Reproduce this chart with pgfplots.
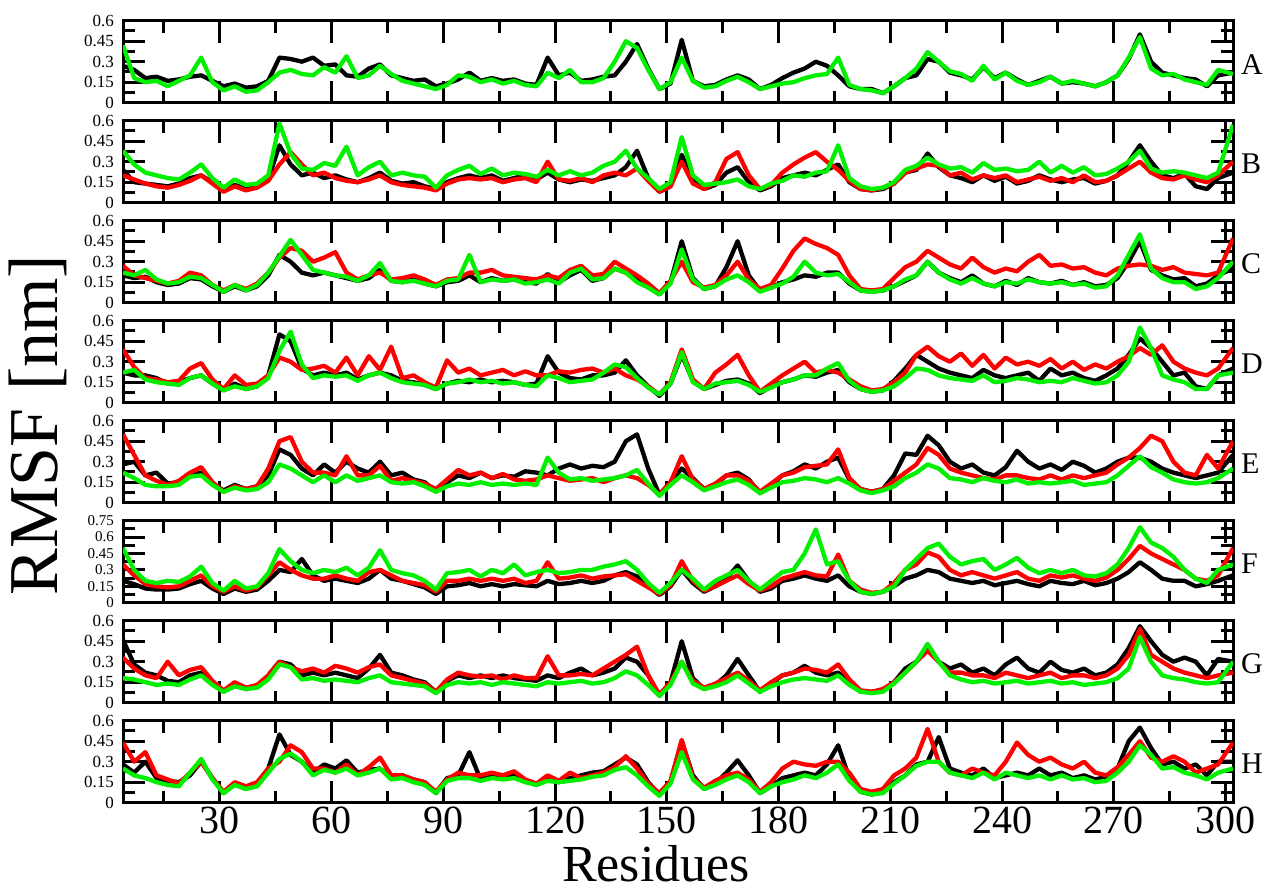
\documentclass[border=0pt]{standalone}
\usepackage{pgfplots}
\usepackage{pgfplotstable}
\usepackage{fontspec}
\setmainfont{Liberation Serif}
\pgfplotsset{compat=1.18}
\definecolor{xgreen}{RGB}{0,240,0}
\definecolor{xred}{RGB}{255,0,0}

\pgfplotstableread{
r k g
4 .27 .42
7 .24 .18
10 .18 .15
13 .19 .16
16 .16 .12
19 .17 .16
22 .19 .2
25 .2 .33
28 .16 .15
31 .12 .09
34 .14 .12
37 .11 .08
40 .12 .09
43 .16 .15
46 .33 .22
49 .32 .24
52 .3 .21
55 .33 .2
58 .27 .26
61 .28 .22
64 .2 .34
67 .19 .18
70 .25 .2
73 .28 .27
76 .2 .21
79 .18 .16
82 .16 .14
85 .17 .12
88 .12 .1
91 .14 .13
94 .17 .2
97 .22 .19
100 .16 .15
103 .18 .17
106 .16 .14
109 .17 .16
112 .14 .13
115 .13 .12
118 .33 .22
121 .2 .18
124 .22 .24
127 .16 .15
130 .17 .15
133 .19 .18
136 .2 .3
139 .3 .45
142 .43 .4
145 .25 .24
148 .1 .1
151 .14 .15
154 .46 .33
157 .16 .16
160 .12 .11
163 .13 .12
166 .17 .16
169 .2 .19
172 .17 .15
175 .1 .1
178 .13 .12
181 .18 .14
184 .22 .15
187 .25 .18
190 .3 .2
193 .27 .21
196 .2 .33
199 .12 .13
202 .1 .1
205 .1 .09
208 .07 .07
211 .12 .12
214 .18 .18
217 .2 .25
220 .32 .37
223 .3 .3
226 .22 .23
229 .2 .21
232 .17 .16
235 .26 .27
238 .18 .17
241 .22 .22
244 .17 .16
247 .13 .13
250 .16 .15
253 .19 .19
256 .14 .14
259 .15 .16
262 .14 .14
265 .12 .12
268 .15 .15
271 .2 .2
274 .32 .33
277 .5 .48
280 .3 .25
283 .22 .2
286 .2 .21
289 .18 .17
292 .17 .15
295 .12 .13
298 .2 .24
302 .22 .21
}\tabA

\pgfplotstableread{
r k d g
4 .24 .2 .38
7 .15 .17 .28
10 .14 .14 .22
13 .13 .12 .2
16 .12 .11 .18
19 .14 .13 .17
22 .18 .16 .22
25 .2 .2 .28
28 .15 .14 .18
31 .09 .08 .11
34 .13 .12 .17
37 .1 .09 .13
40 .12 .11 .14
43 .17 .16 .2
46 .42 .28 .58
49 .28 .37 .36
52 .2 .28 .25
55 .22 .2 .24
58 .18 .22 .29
61 .2 .18 .27
64 .17 .16 .41
67 .15 .15 .2
70 .18 .17 .26
73 .22 .2 .3
76 .16 .15 .2
79 .14 .13 .22
82 .15 .12 .2
85 .12 .11 .19
88 .1 .09 .11
91 .15 .14 .2
94 .18 .17 .24
97 .2 .18 .27
100 .18 .17 .21
103 .2 .18 .25
106 .16 .15 .2
109 .18 .17 .22
112 .2 .18 .21
115 .17 .15 .19
118 .22 .3 .24
121 .17 .17 .2
124 .15 .16 .23
127 .17 .18 .2
130 .16 .15 .22
133 .18 .2 .27
136 .2 .22 .3
139 .26 .2 .38
142 .38 .25 .25
145 .18 .16 .18
148 .08 .08 .1
151 .12 .12 .15
154 .35 .3 .48
157 .17 .14 .2
160 .1 .1 .13
163 .13 .15 .14
166 .22 .32 .15
169 .26 .37 .17
172 .15 .2 .12
175 .09 .1 .1
178 .12 .13 .14
181 .18 .22 .16
184 .2 .28 .2
187 .22 .33 .19
190 .2 .37 .22
193 .24 .3 .23
196 .28 .24 .42
199 .15 .16 .18
202 .1 .1 .12
205 .09 .09 .1
208 .1 .11 .11
211 .14 .14 .15
214 .22 .22 .24
217 .24 .25 .27
220 .36 .28 .33
223 .26 .27 .28
226 .2 .2 .25
229 .18 .22 .26
232 .15 .17 .22
235 .2 .2 .29
238 .16 .18 .24
241 .19 .2 .25
244 .14 .15 .23
247 .16 .17 .24
250 .2 .19 .3
253 .17 .16 .22
256 .15 .18 .27
259 .17 .15 .22
262 .18 .2 .26
265 .14 .15 .2
268 .16 .16 .21
271 .2 .2 .25
274 .3 .25 .3
277 .42 .3 .38
280 .3 .22 .25
283 .2 .18 .22
286 .18 .17 .23
289 .21 .2 .22
292 .12 .17 .2
295 .1 .15 .18
298 .18 .2 .22
302 .22 .3 .57
}\tabB

\pgfplotstableread{
r k d g
4 .2 .27 .22
7 .18 .2 .2
10 .19 .18 .24
13 .15 .16 .17
16 .13 .14 .14
19 .14 .16 .15
22 .18 .22 .19
25 .17 .2 .18
28 .12 .13 .13
31 .08 .09 .08
34 .12 .13 .13
37 .09 .1 .09
40 .12 .14 .13
43 .2 .22 .22
46 .35 .33 .34
49 .3 .4 .46
52 .22 .38 .35
55 .2 .3 .24
58 .22 .33 .22
61 .2 .37 .2
64 .18 .22 .19
67 .16 .17 .16
70 .18 .2 .2
73 .24 .22 .29
76 .16 .17 .16
79 .15 .18 .15
82 .17 .2 .16
85 .14 .17 .14
88 .12 .13 .12
91 .15 .17 .16
94 .16 .18 .17
97 .2 .22 .35
100 .15 .22 .15
103 .18 .24 .17
106 .16 .2 .16
109 .17 .19 .17
112 .15 .18 .14
115 .14 .17 .15
118 .21 .2 .17
121 .15 .18 .14
124 .2 .24 .22
127 .24 .27 .25
130 .16 .2 .17
133 .18 .21 .18
136 .25 .3 .25
139 .22 .25 .22
142 .17 .2 .15
145 .12 .14 .11
148 .06 .07 .06
151 .15 .16 .14
154 .45 .3 .39
157 .18 .15 .17
160 .1 .11 .1
163 .12 .13 .12
166 .26 .2 .17
169 .45 .3 .2
172 .2 .17 .15
175 .09 .1 .08
178 .11 .13 .11
181 .15 .25 .14
184 .17 .38 .19
187 .2 .47 .3
190 .19 .43 .22
193 .22 .4 .2
196 .22 .35 .21
199 .14 .2 .15
202 .09 .1 .09
205 .08 .09 .08
208 .09 .1 .09
211 .12 .18 .12
214 .16 .26 .17
217 .2 .3 .2
220 .3 .38 .3
223 .22 .33 .22
226 .18 .28 .17
229 .15 .25 .14
232 .2 .33 .18
235 .14 .26 .14
238 .12 .22 .12
241 .16 .25 .15
244 .13 .23 .14
247 .18 .3 .17
250 .15 .35 .15
253 .14 .27 .14
256 .16 .28 .15
259 .13 .25 .13
262 .15 .26 .14
265 .12 .22 .11
268 .13 .2 .12
271 .18 .25 .2
274 .3 .27 .35
277 .45 .28 .5
280 .24 .27 .25
283 .2 .24 .18
286 .17 .26 .15
289 .18 .22 .15
292 .12 .21 .1
295 .14 .2 .12
298 .2 .22 .18
302 .25 .47 .3
}\tabC

\pgfplotstableread{
r k d g
4 .22 .39 .22
7 .2 .26 .24
10 .2 .18 .17
13 .18 .17 .15
16 .14 .15 .14
19 .15 .16 .13
22 .18 .25 .18
25 .2 .29 .2
28 .14 .17 .14
31 .09 .1 .09
34 .14 .2 .12
37 .1 .13 .1
40 .12 .14 .12
43 .2 .2 .18
46 .5 .33 .38
49 .45 .3 .52
52 .25 .24 .28
55 .2 .25 .18
58 .22 .27 .2
61 .2 .22 .19
64 .22 .33 .2
67 .17 .2 .16
70 .2 .34 .2
73 .22 .24 .22
76 .2 .41 .18
79 .16 .18 .15
82 .15 .2 .14
85 .13 .15 .13
88 .1 .11 .1
91 .14 .31 .14
94 .16 .22 .15
97 .15 .25 .17
100 .17 .2 .15
103 .15 .22 .16
106 .16 .24 .14
109 .15 .2 .15
112 .13 .23 .13
115 .14 .2 .12
118 .34 .2 .2
121 .22 .23 .18
124 .18 .22 .15
127 .17 .24 .16
130 .2 .25 .17
133 .2 .22 .22
136 .22 .25 .28
139 .31 .2 .26
142 .2 .17 .18
145 .12 .12 .11
148 .05 .06 .06
151 .14 .15 .14
154 .35 .39 .37
157 .16 .17 .15
160 .1 .1 .1
163 .13 .22 .14
166 .16 .28 .15
169 .17 .35 .16
172 .14 .2 .13
175 .07 .08 .08
178 .12 .14 .11
181 .15 .2 .15
184 .17 .25 .17
187 .2 .3 .2
190 .19 .22 .2
193 .22 .24 .25
196 .24 .22 .29
199 .15 .17 .16
202 .1 .12 .1
205 .08 .09 .08
208 .09 .1 .09
211 .16 .15 .12
214 .25 .22 .18
217 .35 .35 .25
220 .3 .41 .24
223 .25 .34 .2
226 .22 .3 .18
229 .2 .36 .17
232 .18 .27 .16
235 .24 .35 .2
238 .2 .25 .15
241 .18 .33 .16
244 .2 .28 .18
247 .22 .3 .17
250 .16 .27 .15
253 .25 .32 .16
256 .2 .25 .15
259 .22 .3 .18
262 .18 .24 .16
265 .16 .28 .14
268 .2 .25 .15
271 .25 .3 .2
274 .35 .34 .3
277 .47 .4 .55
280 .4 .35 .4
283 .3 .42 .2
286 .2 .3 .17
289 .22 .25 .15
292 .12 .22 .1
295 .1 .2 .1
298 .2 .25 .2
302 .25 .4 .22
}\tabD

\pgfplotstableread{
r k d g
4 .28 .5 .22
7 .3 .35 .18
10 .2 .2 .13
13 .22 .16 .12
16 .14 .13 .12
19 .15 .16 .13
22 .2 .22 .19
25 .22 .26 .2
28 .14 .15 .13
31 .09 .08 .08
34 .13 .12 .11
37 .1 .1 .09
40 .12 .12 .1
43 .2 .25 .15
46 .39 .45 .28
49 .35 .48 .25
52 .25 .3 .2
55 .2 .22 .15
58 .28 .22 .2
61 .22 .2 .15
64 .3 .34 .2
67 .25 .2 .16
70 .22 .2 .18
73 .3 .27 .2
76 .2 .16 .15
79 .22 .18 .14
82 .17 .16 .15
85 .15 .14 .12
88 .08 .1 .08
91 .15 .17 .12
94 .2 .24 .14
97 .18 .2 .13
100 .22 .22 .15
103 .18 .18 .13
106 .2 .21 .14
109 .19 .17 .13
112 .23 .16 .14
115 .22 .17 .13
118 .2 .2 .33
121 .25 .18 .22
124 .28 .16 .17
127 .25 .17 .18
130 .27 .18 .16
133 .26 .15 .17
136 .3 .18 .18
139 .45 .2 .2
142 .5 .18 .24
145 .25 .13 .14
148 .06 .06 .05
151 .15 .15 .13
154 .25 .34 .2
157 .18 .17 .15
160 .1 .1 .09
163 .13 .14 .12
166 .2 .2 .15
169 .22 .2 .17
172 .17 .16 .13
175 .07 .08 .07
178 .13 .14 .11
181 .2 .2 .15
184 .23 .22 .16
187 .28 .26 .18
190 .25 .27 .17
193 .3 .28 .15
196 .33 .39 .18
199 .17 .18 .14
202 .1 .1 .09
205 .08 .08 .07
208 .1 .1 .09
211 .2 .16 .12
214 .36 .22 .18
217 .35 .28 .22
220 .49 .4 .28
223 .42 .35 .25
226 .3 .25 .18
229 .25 .22 .17
232 .28 .2 .15
235 .22 .18 .18
238 .2 .17 .16
241 .26 .2 .15
244 .38 .2 .17
247 .3 .18 .14
250 .25 .17 .15
253 .28 .2 .14
256 .24 .17 .15
259 .3 .2 .16
262 .27 .18 .13
265 .22 .2 .14
268 .25 .22 .15
271 .3 .28 .2
274 .33 .33 .27
277 .33 .4 .34
280 .3 .49 .26
283 .25 .45 .22
286 .22 .3 .17
289 .2 .22 .15
292 .18 .2 .14
295 .2 .35 .15
298 .22 .25 .18
302 .35 .45 .25
}\tabE

\pgfplotstableread{
r k d g
4 .2 .35 .5
7 .17 .25 .3
10 .13 .17 .2
13 .12 .15 .18
16 .12 .14 .2
19 .13 .15 .19
22 .17 .2 .24
25 .2 .25 .33
28 .13 .15 .18
31 .08 .1 .11
34 .13 .15 .2
37 .1 .11 .13
40 .12 .14 .15
43 .2 .25 .27
46 .3 .37 .49
49 .28 .3 .38
52 .4 .25 .3
55 .25 .22 .27
58 .2 .22 .3
61 .22 .25 .28
64 .2 .22 .32
67 .18 .2 .25
70 .22 .28 .32
73 .3 .3 .48
76 .22 .25 .3
79 .2 .2 .27
82 .17 .18 .25
85 .14 .16 .2
88 .08 .1 .12
91 .15 .2 .27
94 .16 .2 .28
97 .18 .22 .3
100 .15 .2 .24
103 .17 .22 .3
106 .15 .2 .27
109 .17 .22 .35
112 .16 .18 .25
115 .15 .2 .28
118 .2 .37 .3
121 .17 .22 .27
124 .18 .23 .28
127 .2 .25 .3
130 .18 .22 .3
133 .2 .24 .33
136 .25 .25 .35
139 .28 .26 .38
142 .24 .2 .3
145 .15 .14 .18
148 .07 .08 .09
151 .15 .16 .18
154 .3 .38 .3
157 .18 .2 .22
160 .1 .11 .12
163 .15 .15 .2
166 .22 .2 .25
169 .34 .25 .3
172 .2 .17 .2
175 .1 .11 .12
178 .13 .15 .2
181 .2 .22 .28
184 .22 .25 .3
187 .25 .28 .45
190 .22 .25 .67
193 .2 .24 .35
196 .25 .44 .38
199 .15 .2 .2
202 .1 .12 .1
205 .08 .09 .08
208 .1 .1 .1
211 .15 .18 .15
214 .22 .3 .3
217 .25 .35 .4
220 .3 .46 .5
223 .28 .42 .54
226 .22 .3 .42
229 .2 .25 .35
232 .18 .28 .38
235 .2 .25 .4
238 .16 .22 .3
241 .18 .25 .35
244 .2 .28 .41
247 .17 .22 .32
250 .15 .2 .27
253 .2 .25 .3
256 .18 .23 .27
259 .17 .25 .3
262 .2 .22 .25
265 .16 .2 .24
268 .18 .23 .27
271 .22 .3 .35
274 .28 .4 .5
277 .37 .52 .69
280 .3 .45 .55
283 .22 .4 .5
286 .2 .35 .42
289 .2 .3 .3
292 .15 .22 .22
295 .17 .2 .18
298 .2 .25 .3
302 .25 .5 .35
}\tabF

\pgfplotstableread{
r k d g
4 .46 .33 .18
7 .28 .25 .17
10 .22 .2 .15
13 .2 .18 .13
16 .16 .3 .14
19 .15 .2 .13
22 .2 .24 .17
25 .22 .26 .2
28 .15 .16 .13
31 .08 .09 .08
34 .14 .15 .12
37 .1 .11 .1
40 .12 .13 .11
43 .2 .2 .17
46 .3 .3 .28
49 .28 .26 .26
52 .2 .23 .17
55 .22 .25 .18
58 .2 .22 .16
61 .22 .27 .17
64 .2 .25 .16
67 .18 .22 .15
70 .25 .26 .18
73 .35 .28 .2
76 .22 .2 .15
79 .2 .18 .14
82 .17 .16 .13
85 .15 .14 .12
88 .08 .08 .07
91 .16 .17 .13
94 .2 .22 .15
97 .18 .2 .14
100 .2 .19 .15
103 .18 .2 .13
106 .2 .17 .15
109 .18 .2 .14
112 .17 .18 .13
115 .16 .18 .12
118 .2 .34 .15
121 .18 .2 .14
124 .22 .2 .15
127 .25 .21 .16
130 .2 .2 .14
133 .22 .25 .15
136 .25 .3 .18
139 .33 .35 .23
142 .3 .41 .2
145 .2 .2 .13
148 .05 .06 .05
151 .15 .15 .13
154 .45 .3 .3
157 .18 .16 .14
160 .1 .11 .1
163 .13 .14 .12
166 .2 .18 .15
169 .32 .22 .2
172 .2 .16 .14
175 .08 .09 .08
178 .14 .15 .12
181 .2 .2 .15
184 .22 .22 .17
187 .27 .25 .18
190 .22 .24 .17
193 .2 .22 .16
196 .22 .28 .2
199 .15 .17 .13
202 .08 .09 .08
205 .08 .08 .07
208 .09 .1 .08
211 .15 .15 .14
214 .25 .22 .22
217 .3 .3 .3
220 .41 .38 .43
223 .3 .3 .3
226 .25 .22 .2
229 .28 .22 .17
232 .22 .2 .15
235 .25 .2 .16
238 .2 .18 .14
241 .28 .22 .15
244 .33 .2 .16
247 .25 .18 .14
250 .22 .2 .15
253 .3 .22 .16
256 .24 .18 .14
259 .22 .2 .15
262 .25 .2 .13
265 .2 .18 .14
268 .22 .2 .15
271 .28 .25 .18
274 .4 .35 .25
277 .56 .54 .48
280 .45 .35 .3
283 .35 .3 .2
286 .3 .25 .18
289 .33 .22 .17
292 .3 .2 .15
295 .2 .18 .14
298 .32 .2 .15
302 .3 .22 .3
}\tabG

\pgfplotstableread{
r k d g
4 .28 .44 .25
7 .22 .3 .2
10 .3 .37 .18
13 .18 .2 .15
16 .16 .17 .13
19 .15 .14 .12
22 .2 .22 .22
25 .3 .3 .32
28 .18 .18 .17
31 .07 .08 .07
34 .14 .15 .13
37 .1 .12 .1
40 .14 .15 .12
43 .25 .25 .22
46 .5 .3 .32
49 .35 .42 .36
52 .3 .37 .3
55 .22 .25 .2
58 .28 .25 .24
61 .25 .22 .22
64 .31 .28 .25
67 .22 .2 .2
70 .24 .26 .22
73 .25 .33 .25
76 .18 .2 .17
79 .2 .2 .18
82 .17 .17 .15
85 .15 .15 .13
88 .07 .08 .07
91 .18 .17 .16
94 .2 .22 .18
97 .37 .2 .18
100 .17 .2 .16
103 .2 .22 .18
106 .18 .2 .17
109 .2 .23 .18
112 .16 .17 .15
115 .13 .14 .13
118 .17 .2 .16
121 .15 .16 .15
124 .18 .22 .16
127 .2 .18 .17
130 .22 .2 .19
133 .23 .22 .2
136 .28 .26 .24
139 .33 .34 .26
142 .28 .25 .2
145 .15 .14 .12
148 .06 .07 .05
151 .15 .16 .14
154 .45 .46 .37
157 .2 .18 .17
160 .1 .11 .1
163 .14 .16 .13
166 .22 .2 .17
169 .31 .22 .2
172 .2 .17 .15
175 .07 .08 .07
178 .12 .15 .12
181 .18 .25 .15
184 .2 .3 .17
187 .22 .28 .2
190 .2 .27 .18
193 .28 .3 .22
196 .42 .3 .28
199 .18 .22 .16
202 .08 .1 .08
205 .06 .08 .06
208 .08 .1 .07
211 .15 .2 .14
214 .2 .25 .2
217 .28 .33 .27
220 .3 .54 .3
223 .48 .3 .3
226 .25 .22 .22
229 .22 .2 .2
232 .2 .25 .18
235 .25 .22 .22
238 .18 .2 .17
241 .2 .3 .22
244 .22 .44 .2
247 .2 .35 .18
250 .25 .3 .2
253 .2 .33 .17
256 .22 .28 .2
259 .18 .25 .17
262 .2 .3 .18
265 .17 .22 .15
268 .19 .2 .16
271 .25 .26 .22
274 .45 .35 .3
277 .55 .45 .42
280 .4 .33 .35
283 .28 .3 .25
286 .3 .34 .26
289 .25 .3 .22
292 .28 .22 .2
295 .2 .25 .17
298 .3 .28 .22
302 .3 .44 .25
}\tabH

\pgfplotsset{
  panel/.style={
    scale only axis, width=1110pt, height=82pt,
    anchor=north west,
    xmin=4, xmax=302, ymin=0, ymax=0.6,
    clip mode=individual,
    axis line style={line width=3pt, black},
    tick align=inside,
    major tick length=22pt, minor tick length=12pt,
    tick style={line width=3pt, black},
    major tick style={line width=3pt, black},
    minor tick style={line width=3pt, black},
    xtick={30,60,...,300}, minor xtick={15,45,...,285},
    ytick={0,0.15,0.3,0.45,0.6}, minor ytick={0.075,0.225,0.375,0.525},
    xticklabels=\empty,
    /pgf/number format/assume math mode=true,
    yticklabel style={font=\fontsize{17}{17}\selectfont, inner sep=0pt, xshift=-9pt},
    xticklabel style={font=\fontsize{40}{40}\selectfont, inner sep=0pt, yshift=-4pt},
    every axis plot/.append style={line width=4.3pt, line join=round, no markers},
  },
}

\newcommand{\panel}[2]{%
  \addplot[black] table[x=r,y=k]{#1};
  \addplot[xred] table[x=r,y=d]{#1};
  \addplot[xgreen] table[x=r,y=g]{#1};
  \node[anchor=west, inner sep=0pt, font=\fontsize{30}{30}\selectfont] at ([xshift=8pt]rel axis cs:1,0.47) {#2};
}

\begin{document}
\begin{tikzpicture}
\path[use as bounding box] (0pt,0pt) rectangle (1269pt,-894pt);

\begin{axis}[panel, at={(123pt,-20.7pt)}]
  \addplot[black] table[x=r,y=k]{\tabA};
  \addplot[xgreen] table[x=r,y=g]{\tabA};
  \node[anchor=west, inner sep=0pt, font=\fontsize{30}{30}\selectfont] at ([xshift=8pt]rel axis cs:1,0.47) {A};
\end{axis}
\begin{axis}[panel, at={(123pt,-120.7pt)}]
  \panel{\tabB}{B}
\end{axis}
\begin{axis}[panel, at={(123pt,-220.7pt)}]
  \panel{\tabC}{C}
\end{axis}
\begin{axis}[panel, at={(123pt,-320.7pt)}]
  \panel{\tabD}{D}
\end{axis}
\begin{axis}[panel, at={(123pt,-420.7pt)}]
  \panel{\tabE}{E}
\end{axis}
\begin{axis}[panel, at={(123pt,-520.7pt)}, ymax=0.75,
  ytick={0,0.15,0.3,0.45,0.6,0.75}, minor ytick={0.075,0.225,0.375,0.525,0.675},
  yticklabel style={font=\fontsize{15}{15}\selectfont}]
  \panel{\tabF}{F}
\end{axis}
\begin{axis}[panel, at={(123pt,-620.7pt)}]
  \panel{\tabG}{G}
\end{axis}
\begin{axis}[panel, at={(123pt,-720.7pt)}, xticklabels={30,60,90,120,150,180,210,240,270,300}]
  \panel{\tabH}{H}
\end{axis}

\node[rotate=90, anchor=base, font=\fontsize{70}{70}\selectfont] at (57pt,-425pt) {RMSF [nm]};
\node[anchor=base, inner sep=0pt, font=\fontsize{52}{52}\selectfont] at (656pt,-881pt) {Residues};
\end{tikzpicture}
\end{document}
